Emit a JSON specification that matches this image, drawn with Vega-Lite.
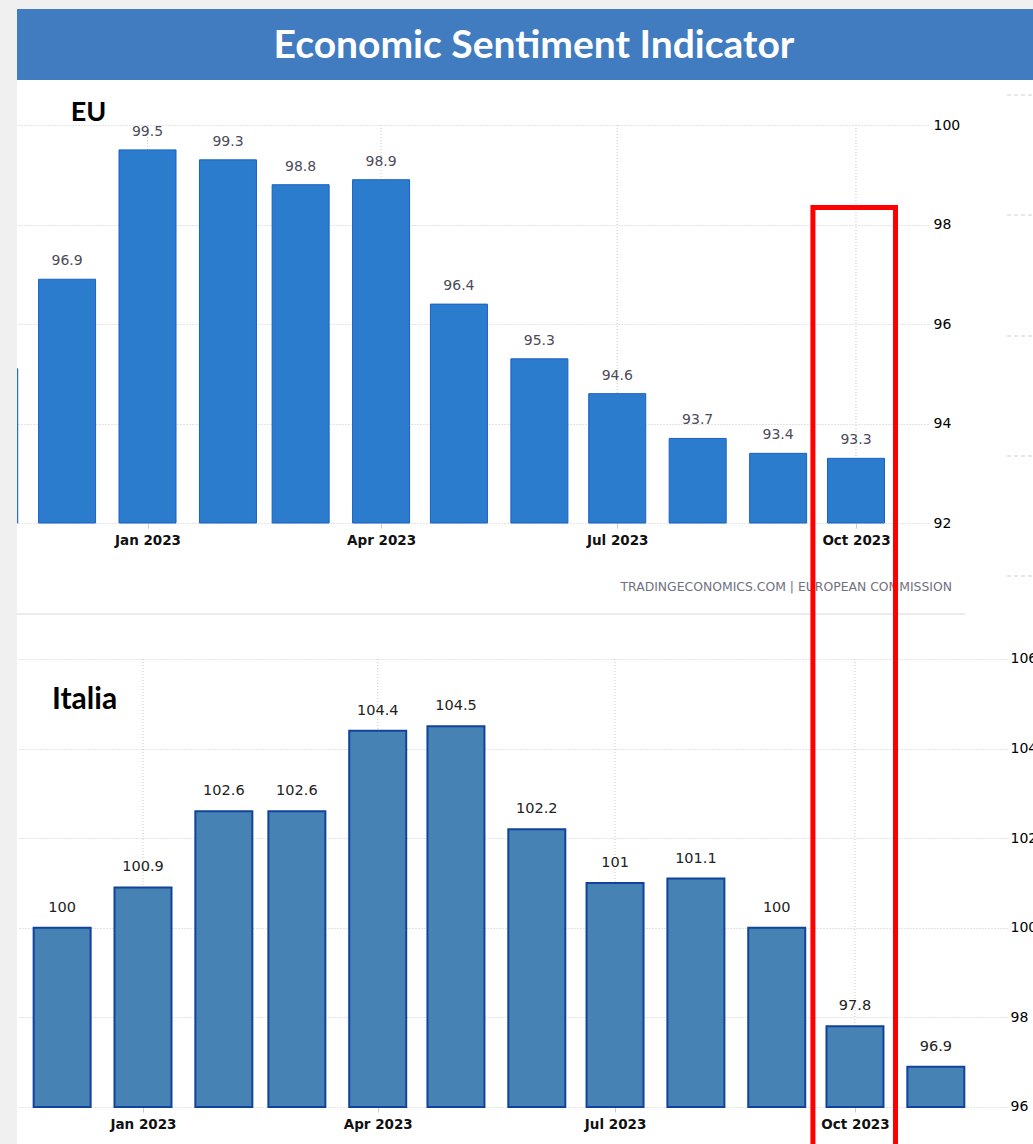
{
  "$schema": "https://vega.github.io/schema/vega-lite/v6.json",
  "padding": 0,
  "background": "white",
  "bounds": "flush",
  "spacing": 0,
  "config": {"view": {"stroke": null}},
  "datasets": {
    "eu": [
      {"m": "2022-11-01", "v": 95.1},
      {"m": "2022-12-01", "v": 96.9},
      {"m": "2023-01-01", "v": 99.5},
      {"m": "2023-02-01", "v": 99.3},
      {"m": "2023-03-01", "v": 98.8},
      {"m": "2023-04-01", "v": 98.9},
      {"m": "2023-05-01", "v": 96.4},
      {"m": "2023-06-01", "v": 95.3},
      {"m": "2023-07-01", "v": 94.6},
      {"m": "2023-08-01", "v": 93.7},
      {"m": "2023-09-01", "v": 93.4},
      {"m": "2023-10-01", "v": 93.3}
    ],
    "it": [
      {"m": "2022-12-01", "v": 100},
      {"m": "2023-01-01", "v": 100.9},
      {"m": "2023-02-01", "v": 102.6},
      {"m": "2023-03-01", "v": 102.6},
      {"m": "2023-04-01", "v": 104.4},
      {"m": "2023-05-01", "v": 104.5},
      {"m": "2023-06-01", "v": 102.2},
      {"m": "2023-07-01", "v": 101},
      {"m": "2023-08-01", "v": 101.1},
      {"m": "2023-09-01", "v": 100},
      {"m": "2023-10-01", "v": 97.8},
      {"m": "2023-11-01", "v": 96.9}
    ],
    "ticks": [
      {"m": "2023-01-01"},
      {"m": "2023-04-01"},
      {"m": "2023-07-01"},
      {"m": "2023-10-01"}
    ],
    "ghost": [
      {"level": 100.603},
      {"level": 98.191},
      {"level": 95.759},
      {"level": 93.347},
      {"level": 90.935}
    ]
  },
  "hconcat": [
    {
      "width": 17,
      "height": 1144,
      "view": {"fill": "#f0f0f0"},
      "data": {"values": [{}]},
      "mark": {"type": "point", "opacity": 0},
      "encoding": {}
    },
    {
      "bounds": "flush",
      "spacing": 0,
      "vconcat": [
        {
          "width": 1016,
          "height": 9,
          "view": {"fill": "#f0f0f0"},
          "data": {"values": [{}]},
          "mark": {"type": "point", "opacity": 0},
          "encoding": {}
        },
        {
          "width": 1016,
          "height": 71,
          "view": {"fill": "#407cbf"},
          "data": {"values": [{}]},
          "mark": {"type": "text", "font": "Lato", "fontWeight": "bold", "fontSize": 39, "color": "#ffffff", "align": "center", "baseline": "middle", "dx": 9, "dy": 1},
          "encoding": {"text": {"value": "Economic Sentiment Indicator"}}
        },
        {
          "width": 911,
          "height": 533,
          "layer": [
            {
              "data": {"name": "ticks"},
              "mark": {"type": "rule", "color": "#c8c8c8", "strokeDash": [1, 2], "strokeWidth": 1},
              "encoding": {
                "x": {
                  "field": "m", "type": "temporal",
                  "scale": {"type": "utc", "padding": 0, "domain": [{"year": 2022, "month": 11, "date": 11, "hours": 17, "utc": true}, {"year": 2023, "month": 10, "date": 28, "hours": 18, "utc": true}]},
                  "axis": {
                    "orient": "bottom", "offset": -90, "title": null, "grid": false, "domain": false,
                    "values": [{"year": 2023, "month": 1, "date": 1, "utc": true}, {"year": 2023, "month": 4, "date": 1, "utc": true}, {"year": 2023, "month": 7, "date": 1, "utc": true}, {"year": 2023, "month": 10, "date": 1, "utc": true}],
                    "format": "%b %Y", "tickSize": 5, "tickColor": "#cccccc", "labelPadding": 5,
                    "labelFont": "DejaVu Sans", "labelFontSize": 13.5, "labelFontWeight": "bold", "labelColor": "#111111"
                  }
                },
                "y": {
                  "datum": 100, "type": "quantitative",
                  "scale": {"domain": [90.191, 100.905], "nice": false, "zero": false, "padding": 0},
                  "axis": {
                    "orient": "right", "title": null, "values": [92, 94, 96, 98, 100], "grid": true,
                    "gridColor": "#c8c8c8", "gridDash": [1, 2], "domain": false, "ticks": false, "labelPadding": 5,
                    "labelFont": "DejaVu Sans", "labelFontSize": 14, "labelColor": "#000000"
                  }
                },
                "y2": {"datum": 92}
              }
            },
            {
              "data": {"name": "ghost"},
              "mark": {"type": "rule", "color": "#cfcfcf", "strokeDash": [4, 3], "clip": false},
              "encoding": {
                "x": {"datum": {"year": 2023, "month": 11, "date": 28, "hours": 5, "utc": true}, "type": "temporal"},
                "x2": {"datum": {"year": 2023, "month": 12, "date": 31, "utc": true}},
                "y": {"field": "level", "type": "quantitative"}
              }
            },
            {
              "data": {"name": "eu"},
              "mark": {"type": "bar", "size": 57, "fill": "#2b7ccd", "stroke": "#1a5fc8", "strokeWidth": 1, "clip": true},
              "encoding": {
                "x": {"field": "m", "type": "temporal"},
                "y": {"field": "v", "type": "quantitative"},
                "y2": {"datum": 92}
              }
            },
            {
              "data": {"name": "eu"},
              "mark": {"type": "text", "font": "DejaVu Sans", "fontSize": 14, "color": "#4b4b5a", "baseline": "middle", "dy": -18, "clip": true},
              "encoding": {
                "x": {"field": "m", "type": "temporal"},
                "y": {"field": "v", "type": "quantitative"},
                "text": {"field": "v", "type": "nominal"}
              }
            },
            {
              "data": {"values": [{"t": "EU"}]},
              "mark": {"type": "text", "font": "Lato", "fontWeight": "bold", "fontSize": 27, "color": "#000000", "align": "center", "baseline": "middle"},
              "encoding": {
                "x": {"datum": {"year": 2022, "month": 12, "date": 9, "hours": 6, "utc": true}, "type": "temporal"},
                "y": {"datum": 100.24, "type": "quantitative"},
                "text": {"field": "t"}
              }
            },
            {
              "data": {"values": [{"t": "TRADINGECONOMICS.COM | EUROPEAN COMMISSION"}]},
              "mark": {"type": "text", "font": "DejaVu Sans", "fontSize": 12.4, "color": "#707080", "align": "right", "baseline": "middle"},
              "encoding": {
                "x": {"datum": {"year": 2023, "month": 11, "date": 7, "utc": true}, "type": "temporal"},
                "y": {"datum": 90.714, "type": "quantitative"},
                "text": {"field": "t"}
              }
            }
          ]
        },
        {
          "width": 948,
          "height": 2,
          "view": {"fill": "#ebebeb"},
          "data": {"values": [{}]},
          "mark": {"type": "point", "opacity": 0},
          "encoding": {}
        },
        {
          "width": 990,
          "height": 529,
          "layer": [
            {
              "data": {"name": "ticks"},
              "mark": {"type": "rule", "color": "#c8c8c8", "strokeDash": [1, 2], "strokeWidth": 1},
              "encoding": {
                "x": {
                  "field": "m", "type": "temporal",
                  "scale": {"type": "utc", "padding": 0, "domain": [{"year": 2022, "month": 11, "date": 13, "hours": 16, "minutes": 33, "utc": true}, {"year": 2023, "month": 11, "date": 28, "hours": 7, "utc": true}]},
                  "axis": {
                    "orient": "bottom", "offset": -37, "title": null, "grid": false, "domain": false,
                    "values": [{"year": 2023, "month": 1, "date": 1, "utc": true}, {"year": 2023, "month": 4, "date": 1, "utc": true}, {"year": 2023, "month": 7, "date": 1, "utc": true}, {"year": 2023, "month": 10, "date": 1, "utc": true}],
                    "format": "%b %Y", "tickSize": 5, "tickColor": "#cccccc", "labelPadding": 5,
                    "labelFont": "DejaVu Sans", "labelFontSize": 13.5, "labelFontWeight": "bold", "labelColor": "#111111"
                  }
                },
                "y": {
                  "datum": 106, "type": "quantitative",
                  "scale": {"domain": [95.174, 106.982], "nice": false, "zero": false, "padding": 0},
                  "axis": {
                    "orient": "right", "title": null, "values": [96, 98, 100, 102, 104, 106], "grid": true,
                    "gridColor": "#c8c8c8", "gridDash": [1, 2], "domain": false, "ticks": false, "labelPadding": 3,
                    "labelFont": "DejaVu Sans", "labelFontSize": 14, "labelColor": "#000000"
                  }
                },
                "y2": {"datum": 96}
              }
            },
            {
              "data": {"name": "it"},
              "mark": {"type": "bar", "size": 57, "fill": "#4682b4", "stroke": "#12439c", "strokeWidth": 2},
              "encoding": {
                "x": {"field": "m", "type": "temporal"},
                "y": {"field": "v", "type": "quantitative"},
                "y2": {"datum": 96}
              }
            },
            {
              "data": {"name": "it"},
              "mark": {"type": "text", "font": "DejaVu Sans", "fontSize": 14.5, "color": "#222222", "baseline": "middle", "dy": -20},
              "encoding": {
                "x": {"field": "m", "type": "temporal"},
                "y": {"field": "v", "type": "quantitative"},
                "text": {"field": "v", "type": "nominal"}
              }
            },
            {
              "data": {"values": [{"t": "Italia"}]},
              "mark": {"type": "text", "font": "Lato", "fontWeight": "bold", "fontSize": 30, "color": "#000000", "align": "center", "baseline": "middle"},
              "encoding": {
                "x": {"datum": {"year": 2022, "month": 12, "date": 9, "hours": 14, "utc": true}, "type": "temporal"},
                "y": {"datum": 105.085, "type": "quantitative"},
                "text": {"field": "t"}
              }
            },
            {
              "data": {"values": [{"k": "highlight"}]},
              "mark": {"type": "rect", "fill": null, "stroke": "#ff0000", "strokeWidth": 5, "strokeJoin": "miter", "clip": false},
              "encoding": {
                "x": {"datum": {"year": 2023, "month": 9, "date": 14, "hours": 21, "utc": true}, "type": "temporal"},
                "x2": {"datum": {"year": 2023, "month": 10, "date": 16, "hours": 13, "utc": true}},
                "y": {"datum": 116.08, "type": "quantitative"},
                "y2": {"datum": 94}
              }
            }
          ]
        }
      ]
    }
  ]
}
